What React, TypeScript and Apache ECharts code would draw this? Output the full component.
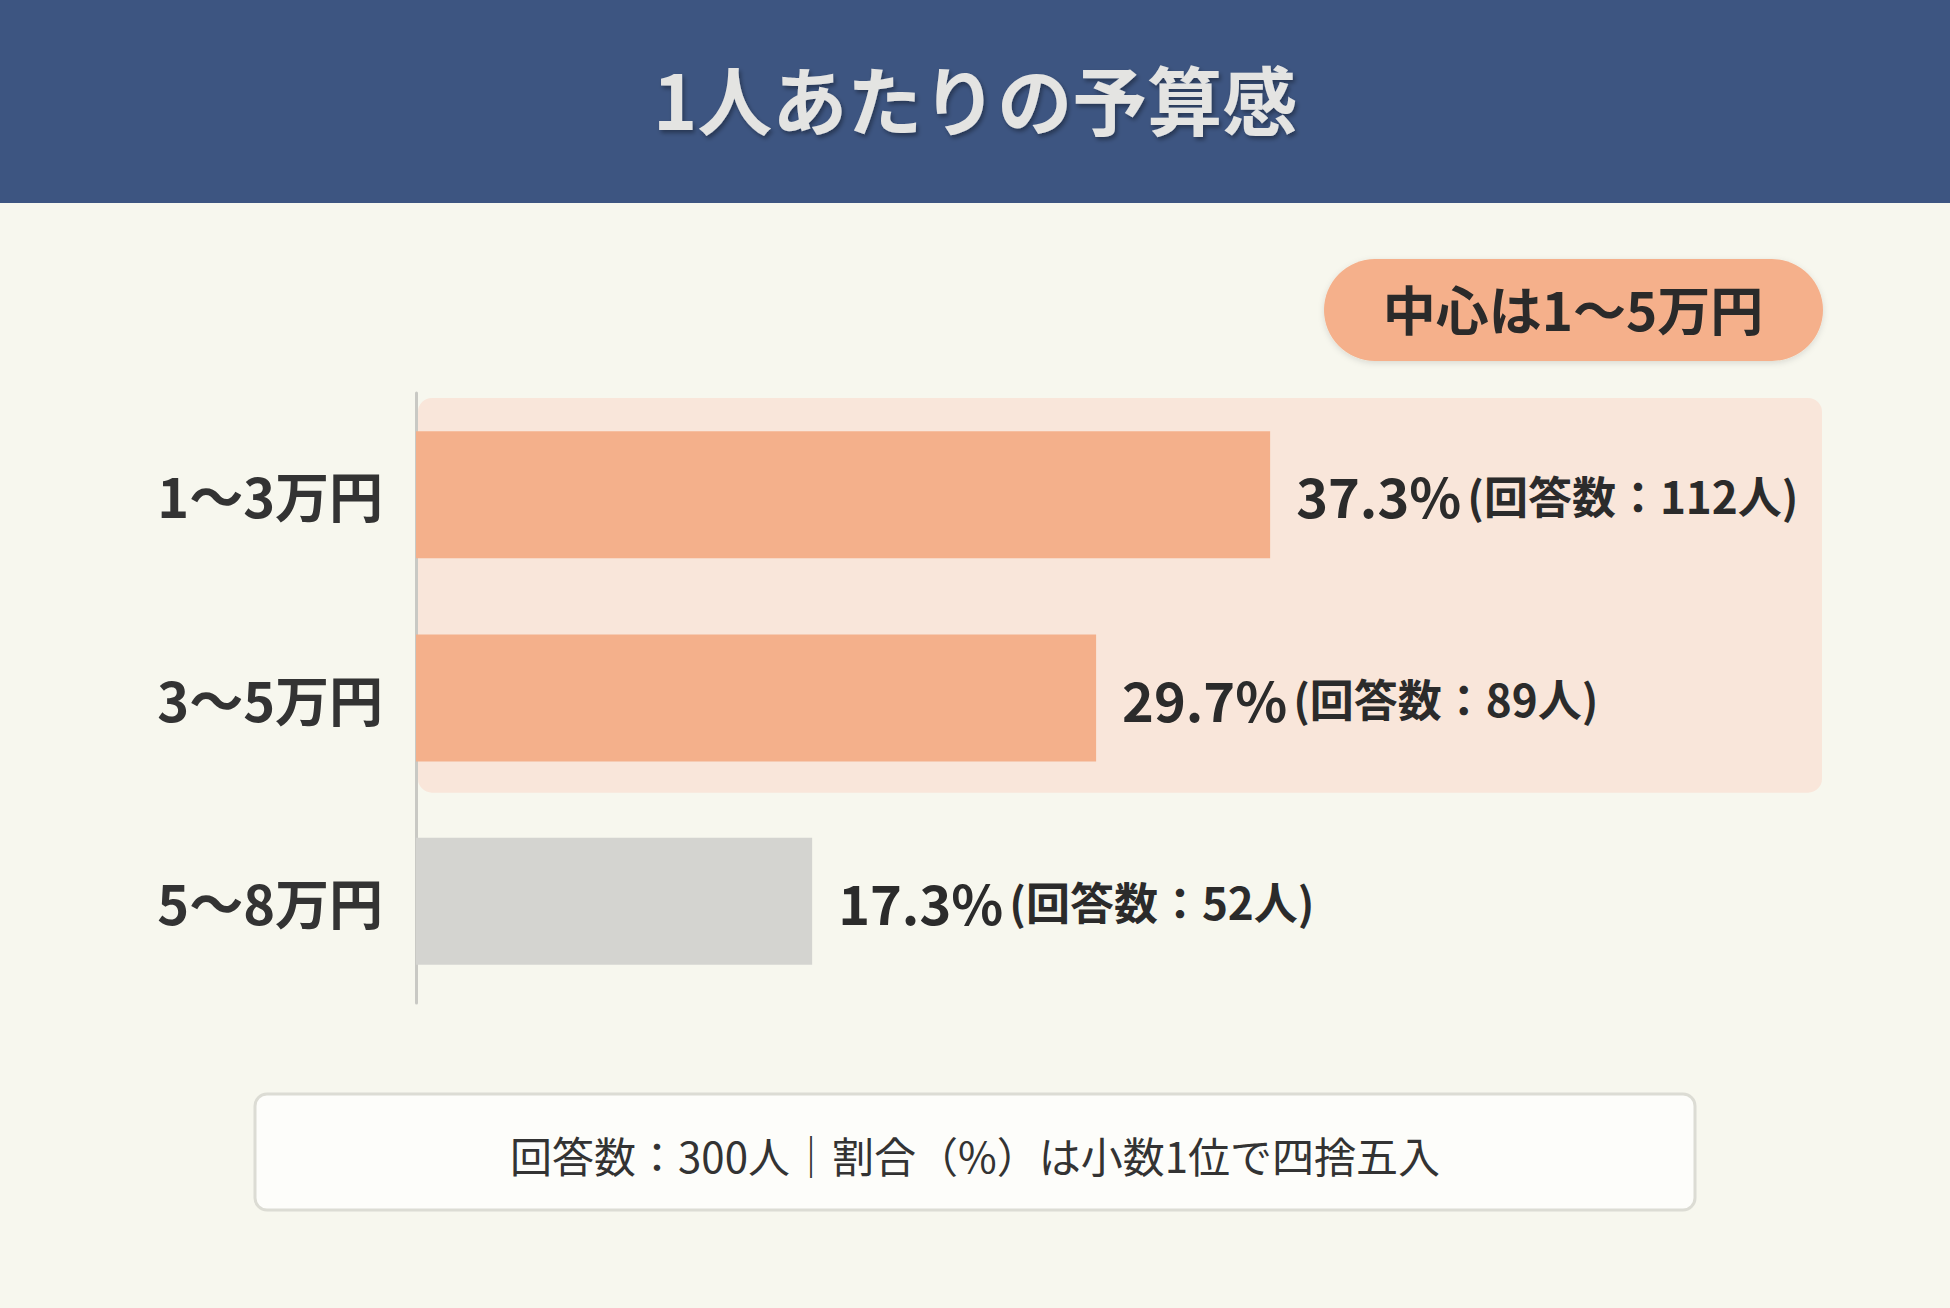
import { useEffect, useRef } from "react";
import * as echarts from "echarts";

// chart data
const categories = ["1〜3万円", "3〜5万円", "5〜8万円"];
const shares = [37.3, 29.7, 17.3];
const counts = [112, 89, 52];
const barColors = ["#f4b08b", "#f4b08b", "#d4d4d0"];
const highlightRange = ["1〜3万円", "3〜5万円"];
const axisMax = 61.4;

const titleText = "1人あたりの予算感";
const badgeText = "中心は1〜5万円";
const noteText = "回答数：300人｜割合（%）は小数1位で四捨五入";

const FONT = '"Noto Sans CJK JP", "Noto Sans", sans-serif';

const App: React.FC = () => {
  const containerRef = useRef<HTMLDivElement>(null);

  useEffect(() => {
    if (!containerRef.current) return;
    const chart = echarts.init(containerRef.current, undefined, { renderer: "svg" });

    chart.setOption({
      animation: false,
      backgroundColor: "#f7f7ee",
      textStyle: { fontFamily: FONT },
      grid: { left: 416, top: 393, width: 1406, height: 610, containLabel: false },
      xAxis: {
        type: "value",
        min: 0,
        max: axisMax,
        show: false,
      },
      yAxis: {
        type: "category",
        inverse: true,
        data: categories,
        axisLine: { show: true, lineStyle: { color: "#c9c9c4", width: 3 } },
        axisTick: { show: false },
        axisLabel: {
          margin: 33,
          fontSize: 54,
          fontWeight: "bold",
          color: "#333333",
          fontFamily: FONT,
        },
      },
      series: [
        {
          type: "bar",
          barWidth: 127,
          z: 3,
          data: shares.map((v, i) => ({ value: v, itemStyle: { color: barColors[i] } })),
          label: {
            show: true,
            position: "right",
            distance: 26,
            formatter: (p: any) => `{v|${shares[p.dataIndex].toFixed(1)}%}{n|(回答数：${counts[p.dataIndex]}人)}`,
            rich: {
              v: { fontSize: 54, fontWeight: "bold", color: "#2b2b2b", fontFamily: FONT },
              n: { fontSize: 44, fontWeight: "bold", color: "#2b2b2b", fontFamily: FONT, padding: [0, 0, 0, 6] },
            },
          },
        },
      ],
      graphic: [
        {
          type: "rect",
          left: 0,
          top: 0,
          shape: { width: 1950, height: 203 },
          style: { fill: "#3d5581" },
          z: 0,
        },
        {
          type: "text",
          x: 975,
          y: 97,
          style: {
            text: titleText,
            fontSize: 75,
            fontWeight: "bold",
            fontFamily: FONT,
            fill: "#e4e4e2",
            align: "center",
            verticalAlign: "middle",
            textShadowColor: "rgba(0,0,0,0.35)",
            textShadowOffsetX: 2,
            textShadowOffsetY: 3,
            textShadowBlur: 4,
          },
          z: 1,
        },
        {
          type: "rect",
          x: 1324,
          y: 259,
          shape: { width: 499, height: 102, r: 51 },
          style: {
            fill: "#f5b08b",
            shadowColor: "rgba(0,0,0,0.12)",
            shadowBlur: 6,
            shadowOffsetY: 2,
          },
          z: 1,
        },
        {
          type: "text",
          x: 1573,
          y: 308,
          style: {
            text: badgeText,
            fontSize: 53,
            fontWeight: "bold",
            fontFamily: FONT,
            fill: "#2a2a2a",
            align: "center",
            verticalAlign: "middle",
          },
          z: 2,
        },
        {
          type: "rect",
          x: 255,
          y: 1094,
          shape: { width: 1440, height: 116, r: 12 },
          style: { fill: "#fdfdfa", stroke: "#dcdcd4", lineWidth: 3 },
          z: 1,
        },
        {
          type: "text",
          x: 975,
          y: 1154,
          style: {
            text: noteText,
            fontSize: 42,
            fontFamily: FONT,
            fill: "#333333",
            align: "center",
            verticalAlign: "middle",
          },
          z: 2,
        },
      ],
    });

    // highlight band behind the first two categories, placed through the axes
    const topCenter = chart.convertToPixel({ yAxisIndex: 0 }, highlightRange[0]) as number;
    const bottomCenter = chart.convertToPixel({ yAxisIndex: 0 }, highlightRange[1]) as number;
    const band = (chart.convertToPixel({ yAxisIndex: 0 }, categories[1]) as number) -
      (chart.convertToPixel({ yAxisIndex: 0 }, categories[0]) as number);
    const x0 = (chart.convertToPixel({ xAxisIndex: 0 }, 0) as number) + 2;
    const x1 = chart.convertToPixel({ xAxisIndex: 0 }, axisMax) as number;
    const y0 = topCenter - band / 2 + 5;
    const y1 = bottomCenter + band / 2 - 7;
    chart.setOption({
      graphic: [
        {
          id: "highlight",
          type: "rect",
          x: x0,
          y: y0,
          shape: { width: x1 - x0, height: y1 - y0, r: 14 },
          style: { fill: "#f9e6da" },
          z: -1,
          silent: true,
        },
      ],
    });

    return () => {
      chart.dispose();
    };
  }, []);

  return (
    <div
      ref={containerRef}
      style={{ position: "fixed", left: 0, top: 0, width: "1950px", height: "1308px" }}
    />
  );
};

export default App;
